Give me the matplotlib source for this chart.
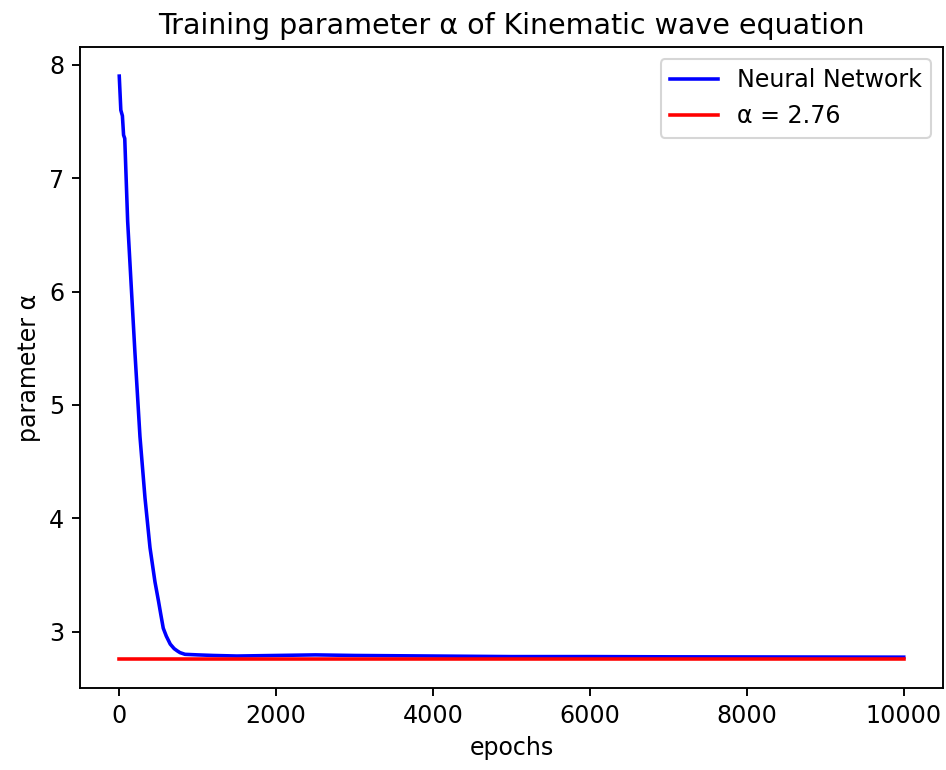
import matplotlib
matplotlib.use("Agg")
import matplotlib.pyplot as plt

# training history of alpha
epochs = [0, 20, 40, 55, 70, 107, 150, 200, 264, 328, 392, 455, 500, 530, 561, 600,
          650, 700, 740, 774, 838, 1000, 1200, 1500, 2000, 2500, 3000, 4000, 5000,
          6000, 7000, 8000, 9000, 10000]
alpha_nn = [7.90, 7.60, 7.55, 7.38, 7.35, 6.62, 6.08, 5.46, 4.72, 4.18, 3.74, 3.44,
            3.27, 3.15, 3.03, 2.96, 2.89, 2.85, 2.83, 2.815, 2.80, 2.795, 2.79, 2.785,
            2.79, 2.795, 2.79, 2.785, 2.78, 2.78, 2.778, 2.777, 2.776, 2.775]
alpha_true = 2.76
true_x = [0, 10000]

s = 1.14  # text / line scale
plt.rcParams.update({
    "font.size": 10 * s,
    "axes.titlesize": 12 * s,
    "axes.labelsize": 10 * s,
    "xtick.labelsize": 10 * s,
    "ytick.labelsize": 10 * s,
    "legend.fontsize": 10 * s,
    "axes.linewidth": 0.8 * s,
    "xtick.major.size": 3.5 * s,
    "ytick.major.size": 3.5 * s,
    "xtick.major.width": 0.8 * s,
    "ytick.major.width": 0.8 * s,
    "lines.linewidth": 1.5 * s,
})

fig = plt.figure(figsize=(946 / 150, 770 / 150), dpi=150)
ax = fig.add_subplot(111)
fig.subplots_adjust(left=0.0846, right=0.9968, top=0.939, bottom=0.1065)

ax.plot(epochs, alpha_nn, color="blue", label="Neural Network")
ax.plot(true_x, [alpha_true, alpha_true], color="red", label="α = 2.76")

ax.set_title("Training parameter α of Kinematic wave equation")
ax.set_xlabel("epochs")
ax.set_ylabel("parameter α")
ax.legend(loc="upper right")

fig.savefig("out.png", dpi=150)
